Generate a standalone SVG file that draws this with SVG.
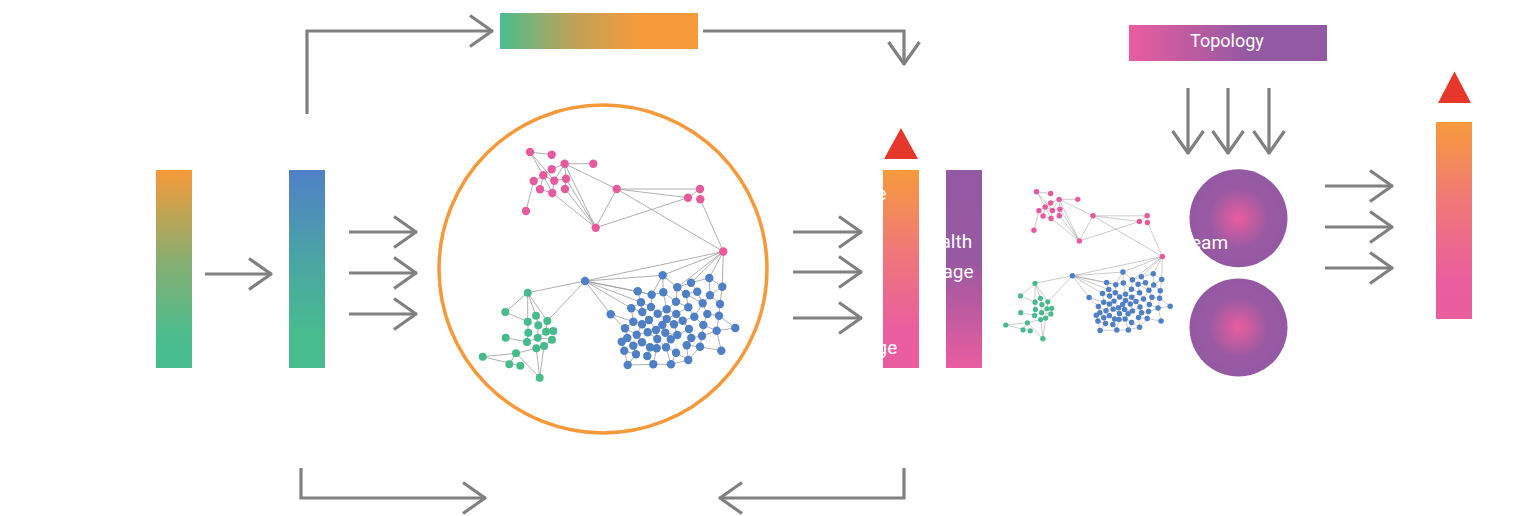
<svg xmlns="http://www.w3.org/2000/svg" xmlns:xlink="http://www.w3.org/1999/xlink" width="1515" height="516" viewBox="0 0 1515 516">
<style>
.arr{fill:none;stroke:#808080;stroke-width:3.2;marker-end:url(#chev)}
.edge{fill:none;stroke:#9a9a9a;stroke-width:0.8}
.pk{fill:#e85a9e}
.gn{fill:#47bb8b}
.bl{fill:#4f7fc5}
.lbl{font-family:Roboto,"Liberation Sans",sans-serif;font-size:19px;fill:#ffffff}
.ttl{font-family:Roboto,"Liberation Sans",sans-serif;font-size:18px;fill:#ffffff}
</style>
<defs>
<marker id="chev" markerUnits="userSpaceOnUse" viewBox="-26 -18 30 36" markerWidth="30" markerHeight="36" refX="0" refY="0" orient="auto" overflow="visible">
<path d="M-23,-15.5L-1,0L-23,15.5" fill="none" stroke="#808080" stroke-width="3.2" stroke-linejoin="round"/>
</marker>
<linearGradient id="gOG" x1="0" y1="0" x2="0" y2="1"><stop offset="0" stop-color="#f69a3a"/><stop offset="0.45" stop-color="#89ae70"/><stop offset="0.85" stop-color="#4abd8e"/><stop offset="1" stop-color="#47bd8f"/></linearGradient>
<linearGradient id="gBG" x1="0" y1="0" x2="0" y2="1"><stop offset="0" stop-color="#4f80c8"/><stop offset="0.5" stop-color="#4aa8a0"/><stop offset="0.85" stop-color="#47bd8e"/><stop offset="1" stop-color="#47bd8f"/></linearGradient>
<linearGradient id="gOP" x1="0" y1="0" x2="0" y2="1"><stop offset="0" stop-color="#f69a3c"/><stop offset="0.4" stop-color="#ef7978"/><stop offset="0.8" stop-color="#e95e9e"/><stop offset="1" stop-color="#e95d9f"/></linearGradient>
<linearGradient id="gPuP" x1="0" y1="0" x2="0" y2="1"><stop offset="0" stop-color="#9459a3"/><stop offset="0.45" stop-color="#9759a2"/><stop offset="1" stop-color="#e95d9f"/></linearGradient>
<linearGradient id="gGOh" x1="0" y1="0" x2="1" y2="0"><stop offset="0" stop-color="#4bbd8f"/><stop offset="0.35" stop-color="#b9a35a"/><stop offset="0.7" stop-color="#f69a3c"/><stop offset="1" stop-color="#f69a3c"/></linearGradient>
<linearGradient id="gPPh" x1="0" y1="0" x2="1" y2="0"><stop offset="0" stop-color="#e95d9f"/><stop offset="0.6" stop-color="#9459a3"/><stop offset="1" stop-color="#9459a3"/></linearGradient>
<radialGradient id="gRad" cx="0.5" cy="0.5" r="0.5"><stop offset="0" stop-color="#e95d9f"/><stop offset="0.6" stop-color="#9a5aa3"/><stop offset="1" stop-color="#9459a3"/></radialGradient>
</defs>
<rect width="1515" height="516" fill="#ffffff"/>

<g id="bar-input"><rect x="156" y="170" width="36" height="198" fill="url(#gOG)"/></g>
<g id="bar-embed"><rect x="289" y="170" width="36" height="198" fill="url(#gBG)"/></g>
<g id="bar-top"><rect x="500" y="13" width="198" height="36" fill="url(#gGOh)"/></g>

<g id="graph-circle">
<circle cx="603" cy="269" r="164" fill="none" stroke="#f5993a" stroke-width="3.5"/>
</g>

<g id="net-big">
<path class="edge" d="M530,152L551.7,154.7M530,152L543.3,175.3M530,152L554.3,180.7M564.7,163.7L593.3,163.7M564.7,163.7L551.7,169.3M564.7,163.7L554.3,180.7M564.7,163.7L566,178.7M564.7,163.7L616.7,189M564.7,163.7L595.7,227.7M543.3,175.3L533.7,181M543.3,175.3L554.3,180.7M543.3,175.3L540,189.3M543.3,175.3L552.3,193M533.7,181L526,211M554.3,180.7L566,178.7M554.3,180.7L552.3,193M566,178.7L565,189M566,178.7L595.7,227.7M565,189L595.7,227.7M552.3,193L595.7,227.7M595.7,227.7L616.7,189M595.7,227.7L688,197.7M616.7,189L700,189M616.7,189L688,197.7M616.7,189L723.3,251.5M700,189L688,197.7M700.3,199.3L723.3,251.5M540,189.3L552.3,193M551.7,169.3L543.3,175.3"/>
<path class="edge" d="M723.3,251.5L585,281M723.3,251.5L662.7,275.3M723.3,251.5L709.3,278M723.3,251.5L691,282.7M723.3,251.5L722.3,286.7M723.3,251.5L677.3,287.3M585,281L662.7,275.3M585,281L637.7,291.3M585,281L651.7,294.7M585,281L641,302.3M585,281L631.3,308.3M585,281L610.7,314.3M585,281L527.7,292.7M585,281L547.3,321"/>
<path class="edge" d="M527.7,292.7L505.3,312M527.7,292.7L527.7,321.7M527.7,292.7L536,315.7M527.7,292.7L547.3,321M505.3,312L527.7,321.7M536,315.7L538.3,325.3M547.3,321L546,331.7M538.3,325.3L537.7,337.7M527.7,321.7L528.3,332.7M546,331.7L553.3,331M546,331.7L537.7,337.7M537.7,337.7L552,339.7M505.7,337.7L527,342M527,342L537.7,337.7M482.7,356.7L516,353.3M516,353.3L536.3,348.3M536.3,348.3L544,346M516,353.3L509.3,364.3M516,353.3L539.7,377.7M536.3,348.3L539.7,377.7M544,346L539.7,377.7M544,346L552,339.7M528.3,332.7L527,342M482.7,356.7L520.3,365.7"/>
<path class="edge" d="M662.7,275.3L677.3,287.3M662.7,275.3L663.3,292.3M662.7,275.3L651.7,294.7M709.3,278L691,282.7M709.3,278L722.3,286.7M709.3,278L710,295.3M691,282.7L697.3,291.7M691,282.7L677.3,287.3M722.3,286.7L710,295.3M722.3,286.7L720,304M677.3,287.3L686,294M677.3,287.3L676,301.7M637.7,291.3L651.7,294.7M637.7,291.3L641,302.3M651.7,294.7L663.3,292.3M651.7,294.7L651,307M663.3,292.3L676,301.7M663.3,292.3L666.7,309.3M686,294L697.3,291.7M686,294L688.3,307.3M686,294L702.7,303.3M697.3,291.7L702.7,303.3M710,295.3L702.7,303.3M710,295.3L720,304M641,302.3L631.3,308.3M641,302.3L642.3,312M641,302.3L651,307M676,301.7L666.7,309.3M676,301.7L688.3,307.3M702.7,303.3L694.3,316.7M702.7,303.3L707.3,314M720,304L719,315.7M631.3,308.3L642.3,312M631.3,308.3L633.3,321.7M651,307L657.7,313.7M651,307L642.3,312M666.7,309.3L657.7,313.7M666.7,309.3L676.3,314M688.3,307.3L694.3,316.7M688.3,307.3L676.3,314M610.7,314.3L633.3,321.7M610.7,314.3L625,328.3M642.3,312L649,320M657.7,313.7L666.7,319M657.7,313.7L649,320M676.3,314L682.7,320.7M676.3,314L666.7,319M694.3,316.7L703.3,325M694.3,316.7L682.7,320.7M707.3,314L719,315.7M707.3,314L703.3,325M719,315.7L716.7,330.7M719,315.7L735.3,328M633.3,321.7L642,324.3M633.3,321.7L625,328.3M649,320L642,324.3M649,320L656,330M666.7,319L662.3,325M666.7,319L674,324.3M682.7,320.7L674,324.3M682.7,320.7L689,329M642,324.3L647.7,332.3M642,324.3L636.7,334.7M662.3,325L656,330M662.3,325L665.3,332.7M674,324.3L677.3,335M703.3,325L716.7,330.7M703.3,325L702,336M716.7,330.7L735.3,328M716.7,330.7L721.3,350.7M716.7,330.7L702,336M625,328.3L627.3,338M625,328.3L636.7,334.7M636.7,334.7L647.7,332.3M636.7,334.7L642,342.3M647.7,332.3L656,330M647.7,332.3L657.3,339M656,330L657.3,339M665.3,332.7L670.7,339.3M665.3,332.7L677.3,335M677.3,335L689,329M677.3,335L670.7,339.3M689,329L691.3,338M702,336L691.3,338M702,336L700,346.7M627.3,338L621.7,341.7M627.3,338L633.3,345.7M621.7,341.7L624.3,350.7M642,342.3L650,347.3M642,342.3L633.3,345.7M657.3,339L656.7,348.3M657.3,339L666,347.3M670.7,339.3L666,347.3M691.3,338L686.7,345.3M633.3,345.7L636,354.3M650,347.3L647.3,356M650,347.3L656.7,348.3M666,347.3L676,352.7M686.7,345.3L700,346.7M686.7,345.3L688.3,360M700,346.7L721.3,350.7M624.3,350.7L627.7,365M624.3,350.7L636,354.3M636,354.3L627.7,365M647.3,356L653.3,364.3M656.7,348.3L653.3,364.3M676,352.7L671,364.3M676,352.7L688.3,360M627.7,365L653.3,364.3M653.3,364.3L671,364.3M671,364.3L688.3,360M666,347.3L671,364.3M700,346.7L688.3,360"/>
<g class="pk">
<circle cx="530" cy="152" r="4.2"/><circle cx="551.7" cy="154.7" r="4.2"/><circle cx="564.7" cy="163.7" r="4.2"/><circle cx="593.3" cy="163.7" r="4.2"/><circle cx="551.7" cy="169.3" r="4.2"/><circle cx="543.3" cy="175.3" r="4.2"/><circle cx="533.7" cy="181" r="4.2"/><circle cx="554.3" cy="180.7" r="4.2"/><circle cx="566" cy="178.7" r="4.2"/><circle cx="540" cy="189.3" r="4.2"/><circle cx="552.3" cy="193" r="4.2"/><circle cx="565" cy="189" r="4.2"/><circle cx="526" cy="211" r="4.2"/><circle cx="595.7" cy="227.7" r="4.2"/><circle cx="616.7" cy="189" r="4.2"/><circle cx="700" cy="189" r="4.2"/><circle cx="688" cy="197.7" r="4.2"/><circle cx="700.3" cy="199.3" r="4.2"/><circle cx="723.3" cy="251.5" r="4.2"/>
</g>
<g class="gn">
<circle cx="527.7" cy="292.7" r="4"/><circle cx="505.3" cy="312" r="4"/><circle cx="527.7" cy="321.7" r="4"/><circle cx="536" cy="315.7" r="4"/><circle cx="547.3" cy="321" r="4"/><circle cx="538.3" cy="325.3" r="4"/><circle cx="528.3" cy="332.7" r="4"/><circle cx="546" cy="331.7" r="4"/><circle cx="553.3" cy="331" r="4"/><circle cx="505.7" cy="337.7" r="4"/><circle cx="537.7" cy="337.7" r="4"/><circle cx="527" cy="342" r="4"/><circle cx="552" cy="339.7" r="4"/><circle cx="544" cy="346" r="4"/><circle cx="536.3" cy="348.3" r="4"/><circle cx="516" cy="353.3" r="4"/><circle cx="482.7" cy="356.7" r="4"/><circle cx="509.3" cy="364.3" r="4"/><circle cx="520.3" cy="365.7" r="4"/><circle cx="539.7" cy="377.7" r="4"/>
</g>
<g class="bl">
<circle cx="585" cy="281" r="4.2"/>
<circle cx="662.7" cy="275.3" r="4.2"/><circle cx="709.3" cy="278" r="4.2"/><circle cx="691" cy="282.7" r="4.2"/><circle cx="722.3" cy="286.7" r="4.2"/><circle cx="677.3" cy="287.3" r="4.2"/><circle cx="637.7" cy="291.3" r="4.2"/><circle cx="651.7" cy="294.7" r="4.2"/><circle cx="663.3" cy="292.3" r="4.2"/><circle cx="686" cy="294" r="4.2"/><circle cx="697.3" cy="291.7" r="4.2"/><circle cx="710" cy="295.3" r="4.2"/><circle cx="641" cy="302.3" r="4.2"/><circle cx="676" cy="301.7" r="4.2"/><circle cx="702.7" cy="303.3" r="4.2"/><circle cx="720" cy="304" r="4.2"/><circle cx="631.3" cy="308.3" r="4.2"/><circle cx="651" cy="307" r="4.2"/><circle cx="666.7" cy="309.3" r="4.2"/><circle cx="688.3" cy="307.3" r="4.2"/><circle cx="610.7" cy="314.3" r="4.2"/><circle cx="642.3" cy="312" r="4.2"/><circle cx="657.7" cy="313.7" r="4.2"/><circle cx="676.3" cy="314" r="4.2"/><circle cx="694.3" cy="316.7" r="4.2"/><circle cx="707.3" cy="314" r="4.2"/><circle cx="719" cy="315.7" r="4.2"/><circle cx="633.3" cy="321.7" r="4.2"/><circle cx="649" cy="320" r="4.2"/><circle cx="666.7" cy="319" r="4.2"/><circle cx="682.7" cy="320.7" r="4.2"/><circle cx="642" cy="324.3" r="4.2"/><circle cx="662.3" cy="325" r="4.2"/><circle cx="674" cy="324.3" r="4.2"/><circle cx="703.3" cy="325" r="4.2"/><circle cx="716.7" cy="330.7" r="4.2"/><circle cx="735.3" cy="328" r="4.2"/><circle cx="625" cy="328.3" r="4.2"/><circle cx="636.7" cy="334.7" r="4.2"/><circle cx="647.7" cy="332.3" r="4.2"/><circle cx="656" cy="330" r="4.2"/><circle cx="665.3" cy="332.7" r="4.2"/><circle cx="677.3" cy="335" r="4.2"/><circle cx="689" cy="329" r="4.2"/><circle cx="702" cy="336" r="4.2"/><circle cx="627.3" cy="338" r="4.2"/><circle cx="621.7" cy="341.7" r="4.2"/><circle cx="642" cy="342.3" r="4.2"/><circle cx="657.3" cy="339" r="4.2"/><circle cx="670.7" cy="339.3" r="4.2"/><circle cx="691.3" cy="338" r="4.2"/><circle cx="633.3" cy="345.7" r="4.2"/><circle cx="650" cy="347.3" r="4.2"/><circle cx="666" cy="347.3" r="4.2"/><circle cx="686.7" cy="345.3" r="4.2"/><circle cx="700" cy="346.7" r="4.2"/><circle cx="624.3" cy="350.7" r="4.2"/><circle cx="636" cy="354.3" r="4.2"/><circle cx="647.3" cy="356" r="4.2"/><circle cx="656.7" cy="348.3" r="4.2"/><circle cx="676" cy="352.7" r="4.2"/><circle cx="721.3" cy="350.7" r="4.2"/><circle cx="627.7" cy="365" r="4.2"/><circle cx="653.3" cy="364.3" r="4.2"/><circle cx="671" cy="364.3" r="4.2"/><circle cx="688.3" cy="360" r="4.2"/>
</g>
</g>

<g id="net-small">
<use xlink:href="#net-big" href="#net-big" transform="translate(691.5,92.8) scale(0.651)"/>
</g>

<g id="bar-score">
<polygon points="884,159 918,159 901,128" fill="#e5372a"/>
<rect x="883" y="170" width="36" height="198" fill="url(#gOP)"/>
<text class="lbl" x="876.5" y="200">e</text>
<text class="lbl" x="876.5" y="354">ge</text>
</g>

<g id="bar-purple">
<rect x="946" y="170" width="36" height="198" fill="url(#gPuP)"/>
<text class="lbl" x="940.5" y="247.5">alth</text>
<text class="lbl" x="942.5" y="278">age</text>
</g>

<g id="topology">
<rect x="1129" y="25" width="198" height="36" fill="url(#gPPh)"/>
<text class="ttl" x="1227" y="46.5" text-anchor="middle">Topology</text>
</g>

<g id="circle-top">
<circle cx="1238.5" cy="218.3" r="49" fill="url(#gRad)"/>
<text class="lbl" x="1191" y="249">eam</text>
</g>
<g id="circle-bottom">
<circle cx="1238.5" cy="327.5" r="49" fill="url(#gRad)"/>
</g>

<g id="bar-output">
<polygon points="1438,103 1471,103 1454.5,71.5" fill="#e5372a"/>
<rect x="1436" y="122" width="36" height="197" fill="url(#gOP)"/>
</g>

<g id="connectors">
<path class="arr" d="M205,274H272"/>
<path class="arr" d="M349,232H417"/>
<path class="arr" d="M349,273H417"/>
<path class="arr" d="M349,314H417"/>
<path class="arr" d="M793,232H862"/>
<path class="arr" d="M793,272H862"/>
<path class="arr" d="M793,318H862"/>
<path class="arr" d="M1325,186H1393"/>
<path class="arr" d="M1325,227H1393"/>
<path class="arr" d="M1325,268H1393"/>
<path class="arr" d="M1188,88V154"/>
<path class="arr" d="M1228,88V154"/>
<path class="arr" d="M1269,88V154"/>
<path class="arr" d="M307,114V31H493"/>
<path class="arr" d="M703,31H904V65"/>
<path class="arr" d="M301,468V498H486"/>
<path class="arr" d="M904,468V498H719"/>
</g>
</svg>
